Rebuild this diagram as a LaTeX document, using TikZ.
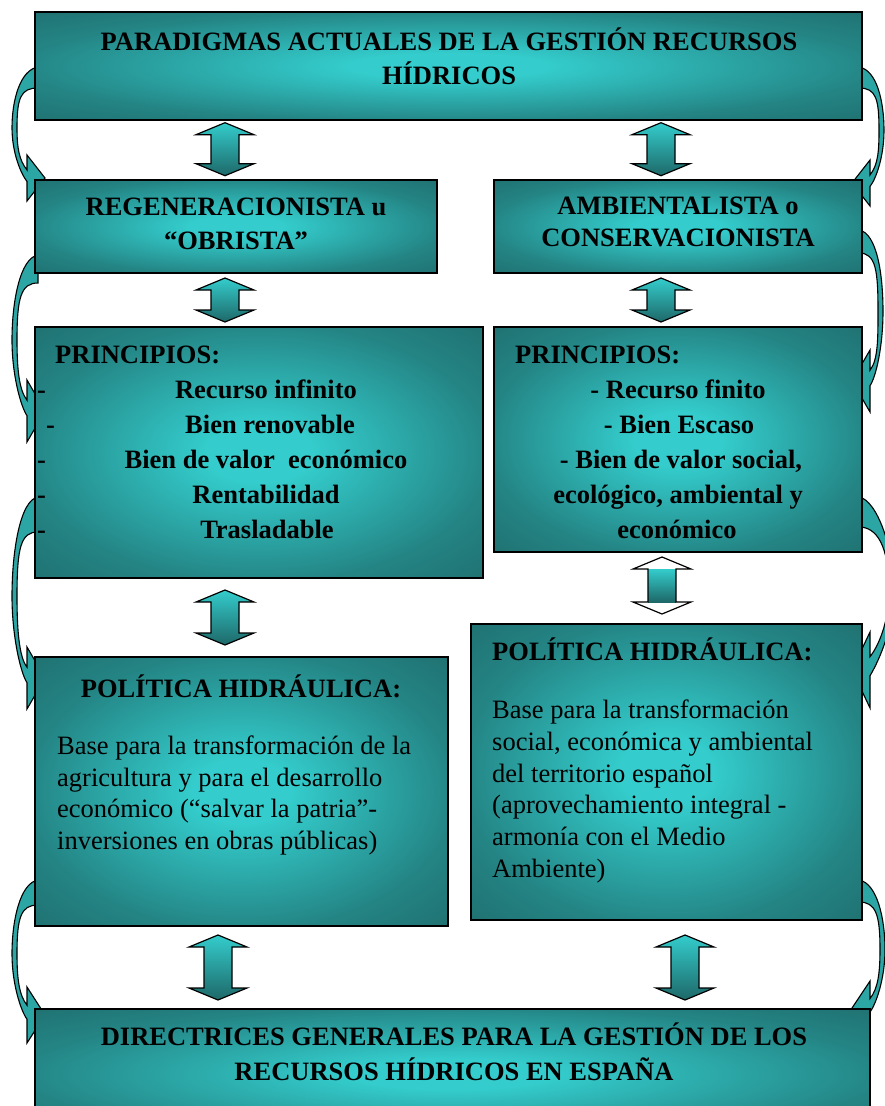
\documentclass[tikz,border=0pt]{standalone}
\usepackage{fontspec}
\setmainfont{Liberation Serif}
\definecolor{tdark}{RGB}{28,94,94}
\definecolor{tmid}{RGB}{36,132,132}
\definecolor{tlight}{RGB}{52,204,204}
\definecolor{adark}{RGB}{30,104,104}
\definecolor{curvfill}{RGB}{44,165,165}
\pgfdeclareradialshading{boxshade}{\pgfpoint{0bp}{0bp}}{color(0bp)=(tlight); color(6bp)=(tlight); color(26bp)=(tmid); color(46bp)=(tdark); color(75bp)=(tdark)}
% curved block arrow: #1 x0, #2 side (-1 left / 1 right), #3 yT, #4 tail thickness, #5 yH, #6 head half span, #7 bulge
\newcommand{\curvarr}[7]{%
  \pgfmathsetmacro\cyM{(#3+#4/2+#5)/2}%
  \draw[curv] ({#1-#2*3},#3)
    .. controls ({#1+#2*15},{#3+3}) and ({#1+#2*#7},{\cyM-0.45*(\cyM-#3)}) .. ({#1+#2*#7},\cyM)
    .. controls ({#1+#2*#7},{\cyM+0.5*(#5-\cyM)}) and ({#1+#2*14},{#5-4}) .. ({#1+#2*8},{#5+0.15*#6})
    -- ({#1+#2*8},{#5+#6})
    -- ({#1-#2*10},#5)
    -- ({#1+#2*8},{#5-#6})
    -- ({#1+#2*8},{#5-0.35*#6})
    .. controls ({#1+#2*16},{#5-0.35*#6-10}) and ({#1+#2*(#7-5)},{\cyM+0.4*(#5-\cyM)}) .. ({#1+#2*(#7-5)},\cyM)
    .. controls ({#1+#2*(#7-5)},{\cyM-0.5*(\cyM-#3)}) and ({#1+#2*14},{#3+#4}) .. ({#1-#2*3},{#3+#4})
    -- cycle;}
% vertical double block arrow: #1 x, #2 ytop, #3 ybottom, #4 style
\newcommand{\dblarr}[4]{%
  \path[#4] (#1,#2) -- ({#1+29},{#2+12}) -- ({#1+14},{#2+12}) -- ({#1+14},{#3-12}) -- ({#1+29},{#3-12})
    -- (#1,#3) -- ({#1-29},{#3-12}) -- ({#1-14},{#3-12}) -- ({#1-14},{#2+12}) -- ({#1-29},{#2+12}) -- cycle;}
\begin{document}
\begin{tikzpicture}[x=1pt,y=-1pt,
  box/.style={draw=black, line width=1.3pt, shade, shading=boxshade, inner sep=0pt, outer sep=0pt, anchor=north west},
  bt/.style={font=\fontsize{26.5}{32}\selectfont\bfseries, inner sep=0pt, anchor=base},
  btl/.style={bt, anchor=base west},
  rt/.style={font=\fontsize{26.5}{32}\selectfont, inner sep=0pt, anchor=base west},
  curv/.style={draw=black, line width=1.1pt, fill=curvfill},
  dbl/.style={draw=black, line width=1.2pt, top color=tlight, bottom color=adark}]
\useasboundingbox (0,0) rectangle (885,1106);
\clip (0,0) rectangle (885,1106);
\fill[white] (0,0) rectangle (885,1106);
% curved arrows (left)
\curvarr{35}{(-1)}{67}{21}{178}{23}{23}
\curvarr{35}{(-1)}{255}{28}{411}{31}{23}
\curvarr{35}{(-1)}{497}{35}{678}{31}{23}
\curvarr{35}{(-1)}{880}{25}{1015}{28}{23}
% curved arrows (right)
\curvarr{862}{1}{67}{21}{183}{23}{22}
\curvarr{862}{1}{230}{23}{381}{31}{21}
\curvarr{862}{1}{497}{30}{670}{38}{32}
\curvarr{862}{1}{880}{22}{1008}{27}{23}
% boxes
\node[box, minimum width=827pt, minimum height=108pt] (title) at (35,12) {};
\node[box, minimum width=402pt, minimum height=93pt] (reg) at (35,180) {};
\node[box, minimum width=368pt, minimum height=93pt] (amb) at (494,180) {};
\node[box, minimum width=448pt, minimum height=251pt] (prl) at (35,327) {};
\node[box, minimum width=368pt, minimum height=225pt] (prr) at (494,327) {};
\node[box, minimum width=413pt, minimum height=269pt] (pol) at (35,657) {};
\node[box, minimum width=391pt, minimum height=296pt] (por) at (471,624) {};
\node[box, minimum width=835pt, minimum height=130pt] (dir) at (35,1009) {};
% double arrows
\dblarr{225}{122.7}{175.7}{dbl}
\dblarr{661}{122.7}{175.7}{dbl}
\dblarr{225}{278}{322}{dbl}
\dblarr{661}{278}{322}{dbl}
\dblarr{225}{590}{645}{dbl}
\dblarr{662}{557}{614}{fill=white}
\shade[top color=tlight, bottom color=adark] (648,569) rectangle (676,602);
\dblarr{662}{557}{614}{draw=black, line width=1.2pt}
\dblarr{218}{935}{1000}{dbl}
\dblarr{685}{935}{1000}{dbl}
% texts
\node[bt] (t1a) at (449,50) {PARADIGMAS ACTUALES DE LA GESTIÓN RECURSOS};
\node[bt] (t1b) at (449,84) {HÍDRICOS};
\node[bt] (t2a) at (236,215) {REGENERACIONISTA u};
\node[bt] (t2b) at (236,249) {“OBRISTA”};
\node[bt] (t3a) at (678,214) {AMBIENTALISTA o};
\node[bt] (t3b) at (678,246) {CONSERVACIONISTA};
\node[btl] (p1h) at (55,363) {PRINCIPIOS:};
\node[btl] (p1d1) at (37,398) {-};
\node[btl] (p1d2) at (46,433) {-};
\node[btl] (p1d3) at (37,468) {-};
\node[btl] (p1d4) at (37,503) {-};
\node[btl] (p1d5) at (37,538) {-};
\node[bt] (p1a) at (266,398) {Recurso infinito};
\node[bt] (p1b) at (270,433) {Bien renovable};
\node[bt] (p1c) at (266,468) {Bien de valor~ económico};
\node[bt] (p1e) at (266,503) {Rentabilidad};
\node[bt] (p1f) at (267,538) {Trasladable};
\node[btl] (p2h) at (515,363) {PRINCIPIOS:};
\node[bt] (p2a) at (678,398) {- Recurso finito};
\node[bt] (p2b) at (679,433) {- Bien Escaso};
\node[bt] (p2c) at (681,468) {- Bien de valor social,};
\node[bt] (p2e) at (678,503) {ecológico, ambiental y};
\node[bt] (p2f) at (677,538) {económico};
\node[bt] (h1) at (241,697) {POLÍTICA HIDRÁULICA:};
\node[rt] (b1a) at (57,754) {Base para la transformación de la};
\node[rt] (b1b) at (57,786) {agricultura y para el desarrollo};
\node[rt] (b1c) at (57,817) {económico (“salvar la patria”-};
\node[rt] (b1d) at (57,849) {inversiones en obras públicas)};
\node[btl] (h2) at (492,660) {POLÍTICA HIDRÁULICA:};
\node[rt] (b2a) at (492,718) {Base para la transformación};
\node[rt] (b2b) at (492,750) {social, económica y ambiental};
\node[rt] (b2c) at (492,782) {del territorio español};
\node[rt] (b2d) at (492,813) {(aprovechamiento integral -};
\node[rt] (b2e) at (492,845) {armonía con el Medio};
\node[rt] (b2f) at (492,877) {Ambiente)};
\node[bt] (t8a) at (454,1045) {DIRECTRICES GENERALES PARA LA GESTIÓN DE LOS};
\node[bt] (t8b) at (454,1080) {RECURSOS HÍDRICOS EN ESPAÑA};
\end{tikzpicture}
\end{document}
